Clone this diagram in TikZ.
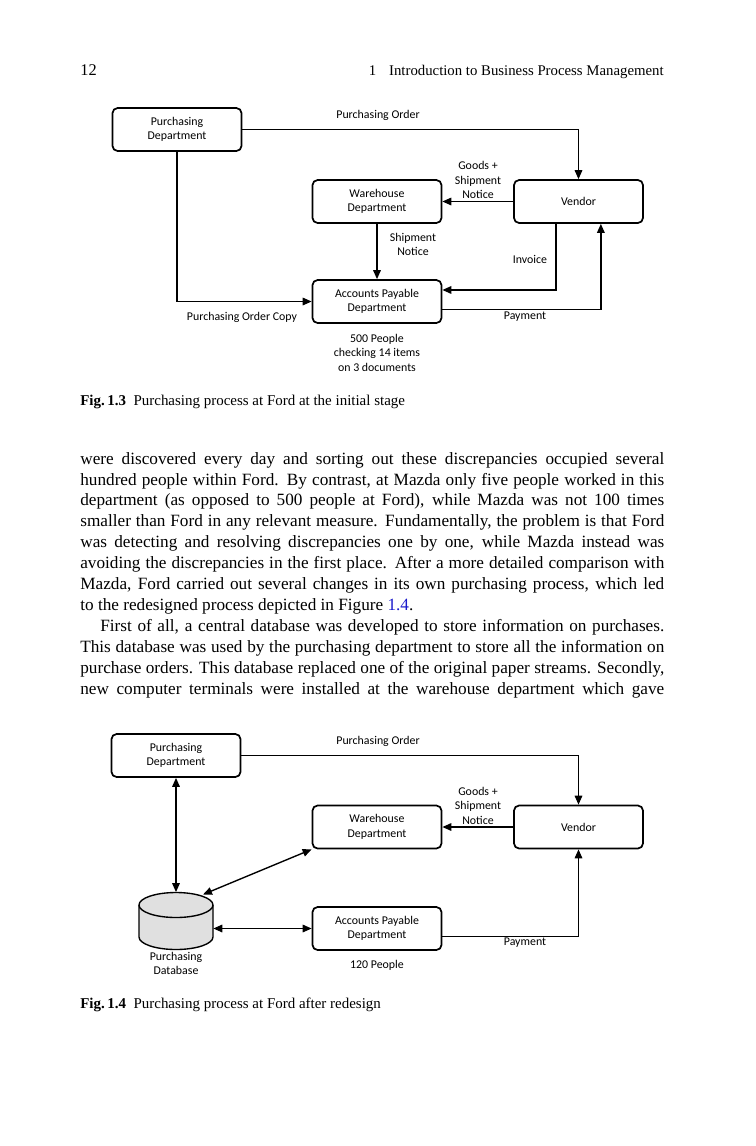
\documentclass[tikz,border=0pt]{standalone}
\usepackage{fontspec}
\setmainfont{Liberation Serif}
\newfontfamily\diafont{Carlito}
\usetikzlibrary{arrows.meta}
\definecolor{refblue}{rgb}{0.1,0.1,0.8}
\begin{document}
\begin{tikzpicture}[x=0.5812pt,y=-0.5812pt,
	box/.style={draw, line width=1pt, rounded corners=3pt, minimum width=75pt, minimum height=25pt, inner sep=0pt, align=center, font=\diafont\fontsize{6.9}{8.4}\selectfont},
	lbl/.style={inner sep=0pt, align=center, font=\diafont\fontsize{6.9}{8.4}\selectfont},
	arr/.style={line width=0.8pt, -{Triangle[length=5.2pt,width=4.4pt]}},
	dbl/.style={line width=0.8pt, {Triangle[length=5.2pt,width=4.4pt]}-{Triangle[length=5.2pt,width=4.4pt]}},
	dbbox/.style={minimum width=43pt, minimum height=33.2pt, inner sep=0pt}]
	\fill[white] (0,0) rectangle (756,1146);
	\useasboundingbox (0,0) rectangle (756,1146);
	\node[anchor=base west, inner sep=0pt, font=\fontsize{9.5}{11}\selectfont] (pgnum) at (80,75) {12};
	\node[anchor=base east, inner sep=0pt, font=\fontsize{8.6}{10}\selectfont] (head) at (664,75) {1\hspace{7.5pt}Introduction to Business Process Management};
	% Fig. 1.3
	\node[box] (pd) at (177,129.5) {Purchasing\\Department};
	\node[box] (wh) at (377,201.5) {Warehouse\\Department};
	\node[box] (vn) at (578.5,201.5) {Vendor};
	\node[box] (ap) at (377,301.5) {Accounts Payable\\Department};
	\node[lbl] (po) at (378,115) {Purchasing Order};
	\node[lbl] (gsn) at (478,180) {Goods +\\Shipment\\Notice};
	\node[lbl] (sn) at (413,244.5) {Shipment\\Notice};
	\node[lbl] (inv) at (530,259) {Invoice};
	\node[lbl] (poc) at (242,317) {Purchasing Order Copy};
	\node[lbl] (pay) at (525,317) {Payment};
	\node[lbl] (ppl) at (377,352.5) {500 People\\checking 14 items\\on 3 documents};
	\draw[arr] (pd.east) -| (vn.north);
	\draw[arr] (vn.west) -- (wh.east);
	\draw[arr] (wh.south) -- (ap.north);
	\draw[arr] (pd.south) |- (ap.west);
	\draw[arr] (vn.225) |- (ap.10);
	\draw[arr] (ap.-7) -| (vn.315);
	\node[anchor=base west, inner sep=0pt, font=\fontsize{8.7}{10}\selectfont] (cap1) at (80,405) {\textbf{Fig.\,1.3}\enspace Purchasing process at Ford at the initial stage};
	% text
	\node[anchor=base west, inner sep=0pt, text width=339.4pt, align=justify, font=\fontsize{10}{12.2}\selectfont] (body) at (80,464) {were discovered every day and sorting out these discrepancies occupied several\linebreak
	hundred people within Ford. By contrast, at Mazda only five people worked in this\linebreak
	department (as opposed to 500 people at Ford), while Mazda was not 100 times\linebreak
	smaller than Ford in any relevant measure. Fundamentally, the problem is that Ford\linebreak
	was detecting and resolving discrepancies one by one, while Mazda instead was\linebreak
	avoiding the discrepancies in the first place. After a more detailed comparison with\linebreak
	Mazda, Ford carried out several changes in its own purchasing process, which led\linebreak
	to the redesigned process depicted in Figure \textcolor{refblue}{1.4}.\par
	\hspace*{11.6pt}First of all, a central database was developed to store information on purchases.\linebreak
	This database was used by the purchasing department to store all the information on\linebreak
	purchase orders. This database replaced one of the original paper streams. Secondly,\linebreak
	new computer terminals were installed at the warehouse department which gave\parfillskip=0pt\par};
	% Fig. 1.4
	\node[box] (pdb) at (176,755.5) {Purchasing\\Department};
	\node[box] (whb) at (377,827) {Warehouse\\Department};
	\node[box] (vnb) at (578.5,827) {Vendor};
	\node[box] (apb) at (377,928.5) {Accounts Payable\\Department};
	\node[dbbox] (pdbase) at (176,921) {};
	\filldraw[fill=black!12, line width=0.8pt] (139,905) -- (139,937) arc[start angle=180, end angle=0, x radius=37, y radius=12.5] -- (213,905) arc[start angle=0, end angle=-180, x radius=37, y radius=12.5] -- cycle;
	\draw[line width=0.8pt] (139,905) arc[start angle=180, end angle=0, x radius=37, y radius=12.5];
	\coordinate (dbtop) at (203,894.5);
	\node[lbl] (dblbl) at (176,963.5) {Purchasing\\Database};
	\node[lbl] (pob) at (378,741) {Purchasing Order};
	\node[lbl] (gsnb) at (478,805.5) {Goods +\\Shipment\\Notice};
	\node[lbl] (payb) at (525,943) {Payment};
	\node[lbl] (pplb) at (377,965) {120 People};
	\draw[arr] (pdb.east) -| (vnb.north);
	\draw[arr] (vnb.west) -- (whb.east);
	\draw[dbl] (pdb.south) -- (pdbase.north);
	\draw[dbl] (dbtop) -- (whb.south west);
	\draw[dbl] (pdbase.east |- apb.west) -- (apb.west);
	\draw[arr] (apb.-7) -| (vnb.south);
	\node[anchor=base west, inner sep=0pt, font=\fontsize{8.7}{10}\selectfont] (cap2) at (80,1008) {\textbf{Fig.\,1.4}\enspace Purchasing process at Ford after redesign};
\end{tikzpicture}
\end{document}
